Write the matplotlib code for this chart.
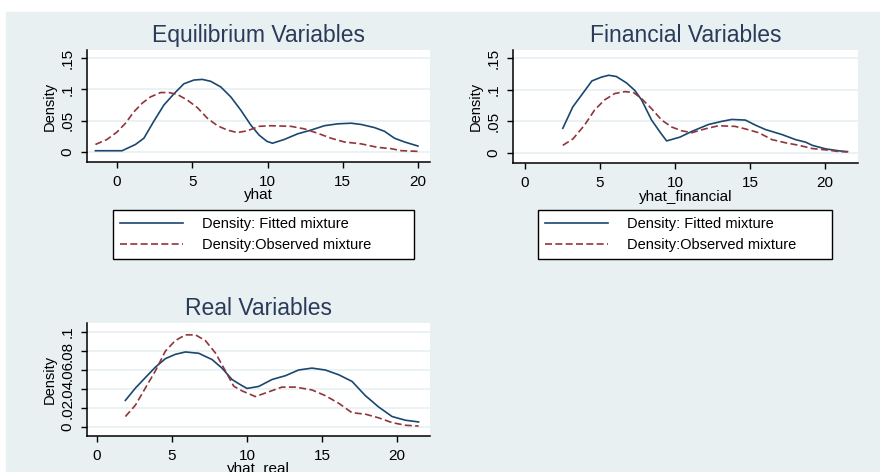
# Density plots: fitted vs observed mixture
import matplotlib.pyplot as plt
from matplotlib.patches import Rectangle

plt.rcParams['font.family'] = ['Liberation Sans', 'DejaVu Sans']

# Equilibrium variables
eq_fit_x = [-1.44, 0.33, 1.22, 1.78, 2.44, 3.11, 3.78, 4.44, 5.11, 5.67, 6.22, 6.89, 7.56, 8.22,
            8.89, 9.44, 9.96, 10.33, 11.11, 12.0, 12.89, 13.78, 14.67, 15.56, 16.22, 17.11,
            17.78, 18.44, 19.11, 20.0]
eq_fit_y = [0.002, 0.002, 0.012, 0.022, 0.049, 0.075, 0.093, 0.109, 0.115, 0.116, 0.113, 0.104,
            0.088, 0.067, 0.043, 0.027, 0.017, 0.014, 0.020, 0.029, 0.035, 0.042, 0.045, 0.046,
            0.044, 0.039, 0.033, 0.022, 0.016, 0.0095]
eq_obs_x = [-1.44, -0.67, 0.0, 0.56, 1.11, 1.67, 2.22, 2.89, 3.44, 4.0, 4.67, 5.33, 6.0, 6.67,
            7.33, 8.0, 8.67, 9.44, 10.22, 11.56, 12.44, 13.33, 14.22, 15.11, 16.22, 17.33,
            18.22, 18.89, 20.0]
eq_obs_y = [0.012, 0.020, 0.032, 0.046, 0.064, 0.078, 0.088, 0.095, 0.095, 0.092, 0.083, 0.071,
            0.054, 0.042, 0.035, 0.031, 0.034, 0.041, 0.042, 0.041, 0.037, 0.030, 0.022, 0.016,
            0.013, 0.0074, 0.0053, 0.0021, 0.001]

# Financial variables
fin_fit_x = [2.52, 3.19, 3.75, 4.46, 5.09, 5.58, 6.09, 6.76, 7.32, 7.77, 8.44, 9.0, 9.44, 10.33,
             11.12, 12.23, 13.13, 13.79, 14.69, 15.36, 16.03, 17.14, 18.04, 18.71, 19.15, 20.04,
             20.94, 21.5]
fin_fit_y = [0.039, 0.073, 0.091, 0.114, 0.120, 0.123, 0.121, 0.111, 0.099, 0.084, 0.052, 0.033,
             0.019, 0.025, 0.034, 0.045, 0.050, 0.053, 0.052, 0.044, 0.037, 0.029, 0.021, 0.017,
             0.012, 0.0064, 0.0032, 0.002]
fin_obs_x = [2.52, 3.19, 3.97, 4.64, 5.31, 5.98, 6.65, 7.21, 7.77, 8.44, 9.11, 9.78, 10.45, 11.12,
             12.0, 12.9, 14.0, 14.69, 15.58, 16.47, 17.37, 18.26, 19.15, 20.04, 20.94, 21.5]
fin_obs_y = [0.012, 0.022, 0.044, 0.068, 0.084, 0.094, 0.097, 0.096, 0.086, 0.070, 0.052, 0.041,
             0.035, 0.032, 0.038, 0.043, 0.042, 0.038, 0.032, 0.021, 0.016, 0.012, 0.0069, 0.0048,
             0.0021, 0.0016]

# Real variables
real_fit_x = [1.89, 2.56, 3.22, 3.89, 4.56, 5.22, 5.89, 6.78, 7.67, 8.33, 9.0, 9.56, 10.0, 10.78,
              11.67, 12.56, 13.44, 14.33, 15.22, 16.11, 17.0, 17.89, 18.78, 19.67, 20.56, 21.44]
real_fit_y = [0.028, 0.041, 0.052, 0.063, 0.072, 0.0765, 0.079, 0.0776, 0.071, 0.062, 0.050,
              0.0445, 0.0406, 0.0427, 0.050, 0.054, 0.060, 0.062, 0.060, 0.055, 0.048, 0.033,
              0.021, 0.011, 0.0071, 0.0053]
real_obs_x = [1.89, 2.56, 3.22, 3.89, 4.56, 5.22, 5.89, 6.56, 7.22, 7.89, 8.56, 9.11, 9.67, 10.56,
              11.44, 12.33, 13.22, 14.33, 15.22, 16.11, 17.0, 17.89, 18.78, 19.67, 20.56, 21.44]
real_obs_y = [0.011, 0.023, 0.041, 0.059, 0.080, 0.091, 0.097, 0.097, 0.091, 0.078, 0.059, 0.043,
              0.038, 0.032, 0.037, 0.042, 0.042, 0.039, 0.033, 0.025, 0.015, 0.0135, 0.0096,
              0.0046, 0.0018, 0.001]

eq_yticks = [0, 0.05, 0.1, 0.15]
eq_ylabels = ['0', '.05', '.1', '.15']
real_yticks = [0, 0.02, 0.04, 0.06, 0.08, 0.1]
real_ylabels = ['0', '.02', '.04', '.06', '.08', '.1']
xticks = [0, 5, 10, 15, 20]

fit_label = 'Density: Fitted mixture'
obs_label = 'Density:Observed mixture'

BLUE = '#1a476f'
RED = '#90353b'
BG = '#e8f0f2'


def draw_panel(ax, title, xlabel, fit_x, fit_y, obs_x, obs_y, yticks, ylabels, xlim, ylim):
    ax.plot(fit_x, fit_y, color=BLUE, lw=1.2, label=fit_label)
    ax.plot(obs_x, obs_y, color=RED, lw=1.2, dashes=(4.2, 2.0), label=obs_label)
    ax.set_xlim(xlim)
    ax.set_ylim(ylim)
    ax.set_xticks(xticks)
    ax.set_yticks(yticks)
    ax.set_yticklabels(ylabels, rotation=90, va='center')
    ax.tick_params(labelsize=11, length=4, width=1)
    ax.tick_params(axis='x', pad=5)
    ax.tick_params(axis='y', pad=5)
    for y in yticks:
        ax.axhline(y, color=BG, lw=1.2, zorder=0)
    for s in ['top', 'right']:
        ax.spines[s].set_visible(False)
    for s in ['left', 'bottom']:
        ax.spines[s].set_linewidth(1.1)
    ax.set_title(title, fontsize=16.5, color='#2a3a5a', pad=6)
    ax.set_xlabel(xlabel, fontsize=11, labelpad=0)
    ax.set_ylabel('Density', fontsize=10.5, labelpad=3)


fig = plt.figure(figsize=(8.8, 4.72), dpi=100)
fig.patches.append(Rectangle((6 / 880, 0), 1, 1 - 12 / 472, transform=fig.transFigure,
                             color=BG, zorder=-1))

ax1 = fig.add_axes([87 / 880, 1 - 162 / 472, 343 / 880, 112 / 472])
ax2 = fig.add_axes([513 / 880, 1 - 163 / 472, 345 / 880, 113 / 472])
ax3 = fig.add_axes([87 / 880, 1 - 436 / 472, 343 / 880, 113 / 472])

draw_panel(ax1, 'Equilibrium Variables', 'yhat', eq_fit_x, eq_fit_y, eq_obs_x, eq_obs_y,
           eq_yticks, eq_ylabels, (-2.0, 20.8), (-0.016, 0.163))
draw_panel(ax2, 'Financial Variables', 'yhat_financial', fin_fit_x, fin_fit_y, fin_obs_x,
           fin_obs_y, eq_yticks, eq_ylabels, (-0.8, 22.2), (-0.016, 0.163))
draw_panel(ax3, 'Real Variables', 'yhat_real', real_fit_x, real_fit_y, real_obs_x, real_obs_y,
           real_yticks, real_ylabels, (-0.67, 22.2), (-0.0095, 0.1095))

# legends under the two top panels
for ax, x0, x1 in [(ax1, 113, 414), (ax2, 538, 832)]:
    leg = ax.legend(loc='upper left', bbox_to_anchor=(x0 / 880, 1 - 210 / 472, (x1 - x0) / 880, 0),
                    bbox_transform=fig.transFigure, mode='expand', fontsize=10.5,
                    handlelength=4.3, handletextpad=1.3, labelspacing=0.45,
                    borderpad=0.5, borderaxespad=0, fancybox=False, framealpha=1,
                    edgecolor='black')
    leg.get_frame().set_linewidth(1.0)

plt.savefig('out.png', dpi=100)
